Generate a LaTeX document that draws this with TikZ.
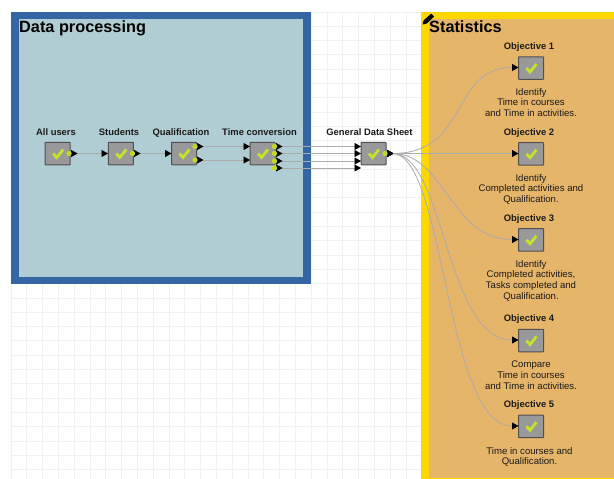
\documentclass[tikz,border=0pt]{standalone}
\usepackage{fontspec}
\setmainfont{Liberation Sans}
\usetikzlibrary{arrows.meta}
\definecolor{gridc}{HTML}{F1F1F1}
\definecolor{blueframe}{HTML}{3465A4}
\definecolor{bluefill}{HTML}{B0CDD4}
\definecolor{yellowframe}{HTML}{FFD700}
\definecolor{orangefill}{HTML}{E5B56A}
\definecolor{boxfill}{HTML}{999999}
\definecolor{boxline}{HTML}{505050}
\definecolor{checkc}{HTML}{C4E32A}
\definecolor{portc}{HTML}{C4D820}
\definecolor{wirec}{HTML}{ABABAB}
\definecolor{txtc}{HTML}{1A1A1A}
\tikzset{
  x=1pt,y=-1pt,
  gridline/.style={gridc,line width=0.9pt},
  blockbox/.style={draw=boxline,fill=boxfill,line width=1pt,minimum width=25pt,minimum height=22.5pt,inner sep=0pt,rounded corners=0.5pt},
  checkmark/.style={checkc,line width=2.8pt},
  portdot/.style={circle,fill=portc,minimum size=5.4pt,inner sep=0pt},
  wire/.style={wirec,line width=0.8pt,{Triangle[reversed,length=6.5pt,width=7pt,black]}-{Triangle[length=6.5pt,width=7pt,black]}},
  blocklabel/.style={font=\bfseries\fontsize{9.4}{10.8}\selectfont,text=txtc,inner sep=0pt,align=center,anchor=base},
  desclabel/.style={font=\fontsize{9.6}{10.8}\selectfont,text=txtc,inner sep=0pt,align=center},
  titlelabel/.style={font=\bfseries\fontsize{16.3}{18}\selectfont,text=black,inner sep=0pt,anchor=base west},
}
\newcommand{\blockat}[3]{%
  \node[blockbox] (#1) at (#2,#3) {};
  \draw[checkmark] ([shift={(-4.5,0)}]#1.center) -- ([shift={(-1,4)}]#1.center) -- ([shift={(5.5,-4)}]#1.center);
}
\begin{document}
\begin{tikzpicture}
\useasboundingbox (0,0) rectangle (614,479);
\fill[white] (0,0) rectangle (614,479);
% grid
\foreach \k in {0,...,38}{\draw[gridline] ({11+15.8*\k},12) -- ({11+15.8*\k},479);}
\foreach \k in {0,...,32}{\draw[gridline] (11,{12+14.3*\k}) -- (614,{12+14.3*\k});}
% panels
\fill[blueframe] (10.5,11.5) rectangle (311,284);
\fill[bluefill] (18.5,18.5) rectangle (303,277);
\fill[yellowframe] (421,11.5) rectangle (614,479);
\fill[orangefill] (429,18.5) rectangle (614,477.5);
\node[titlelabel] (dptitle) at (19,32.5) {Data processing};
\node[titlelabel] (sttitle) at (429,32.5) {Statistics};
% pencil icon
\fill[black] (422.5,24.5) -- (423.6,20.4) -- (431.2,13.6) -- (434.2,16.6) -- (426.6,23.6) -- cycle;
% blocks
\blockat{all}{57.7}{153.5}
\blockat{stu}{120.8}{153.5}
\blockat{qua}{184}{153.5}
\blockat{tim}{262.5}{153.5}
\blockat{gen}{373.5}{153.5}
\blockat{ob1}{531}{68}
\blockat{ob2}{531}{153.8}
\blockat{ob3}{531}{239.8}
\blockat{ob4}{531}{340.5}
\blockat{ob5}{531}{426.3}
% port coordinates
\coordinate (allO) at (71,153.5);
\coordinate (stuI) at (108,153.5);
\coordinate (stuO) at (134,153.5);
\coordinate (quaI) at (171.5,153.5);
\coordinate (quaOa) at (197,146.5);
\coordinate (quaOb) at (197,160);
\coordinate (timIa) at (250,146.5);
\coordinate (timIb) at (250,160);
\coordinate (timOa) at (276,146.5);
\coordinate (timOb) at (276,153.5);
\coordinate (timOc) at (276,161);
\coordinate (timOd) at (276,168);
\coordinate (genIa) at (361,146.5);
\coordinate (genIb) at (361,153.5);
\coordinate (genIc) at (361,161);
\coordinate (genId) at (361,168);
\coordinate (genO) at (387,153.5);
\coordinate (ob1I) at (518.5,67.5);
\coordinate (ob2I) at (518.5,153.5);
\coordinate (ob3I) at (518.5,239.5);
\coordinate (ob4I) at (518.5,340);
\coordinate (ob5I) at (518.5,426);
% connectors
\draw[wire] (allO) -- (stuI);
\draw[wire] (stuO) -- (quaI);
\draw[wire] (quaOa) -- (timIa);
\draw[wire] (quaOb) -- (timIb);
\draw[wire] (timOa) -- (genIa);
\draw[wire] (timOb) -- (genIb);
\draw[wire] (timOc) -- (genIc);
\draw[wire] (timOd) -- (genId);
\draw[wire] (genO) .. controls (470,153.5) and (450,67.5) .. (ob1I);
\draw[wire] (genO) -- (ob2I);
\draw[wire] (genO) .. controls (445,153.5) and (450,239.5) .. (ob3I);
\draw[wire] (genO) .. controls (445,153.5) and (445,340) .. (ob4I);
\draw[wire] (genO) .. controls (445,153.5) and (445,426) .. (ob5I);
% ports
\node[portdot] (p1) at (69,153.5) {};
\node[portdot] (p2) at (132.5,153.5) {};
\node[portdot] (p3) at (195,146.5) {};
\node[portdot] (p4) at (195,160) {};
\node[portdot] (p5) at (274.5,146.5) {};
\node[portdot] (p6) at (274.5,153.5) {};
\node[portdot] (p7) at (274.5,161) {};
\node[portdot] (p8) at (274.5,168) {};
\node[portdot] (p9) at (385,153.5) {};
% labels
\node[blocklabel] (lall) at (56,135.5) {All users};
\node[blocklabel] (lstu) at (119,135.5) {Students};
\node[blocklabel] (lqua) at (181,135.5) {Qualification};
\node[blocklabel] (ltim) at (259.5,135.5) {Time conversion};
\node[blocklabel] (lgen) at (369.5,135.5) {General Data Sheet};
\node[blocklabel] (lo1) at (529,49.5) {Objective 1};
\node[blocklabel] (lo2) at (529,135.5) {Objective 2};
\node[blocklabel] (lo3) at (529,221.5) {Objective 3};
\node[blocklabel] (lo4) at (529,321.5) {Objective 4};
\node[blocklabel] (lo5) at (529,407.5) {Objective 5};
\node[desclabel,anchor=north] (d1) at (531,88) {Identify\\Time in courses\\and Time in activities.};
\node[desclabel,anchor=north] (d2) at (531,174) {Identify\\Completed activities and\\Qualification.};
\node[desclabel,anchor=north] (d3) at (531,260) {Identify\\Completed activities,\\Tasks completed and\\Qualification.};
\node[desclabel,anchor=north] (d4) at (531,360.5) {Compare\\Time in courses\\and Time in activities.};
\node[desclabel,anchor=north] (d5) at (529.5,447) {Time in courses and\\Qualification.};
\end{tikzpicture}
\end{document}
